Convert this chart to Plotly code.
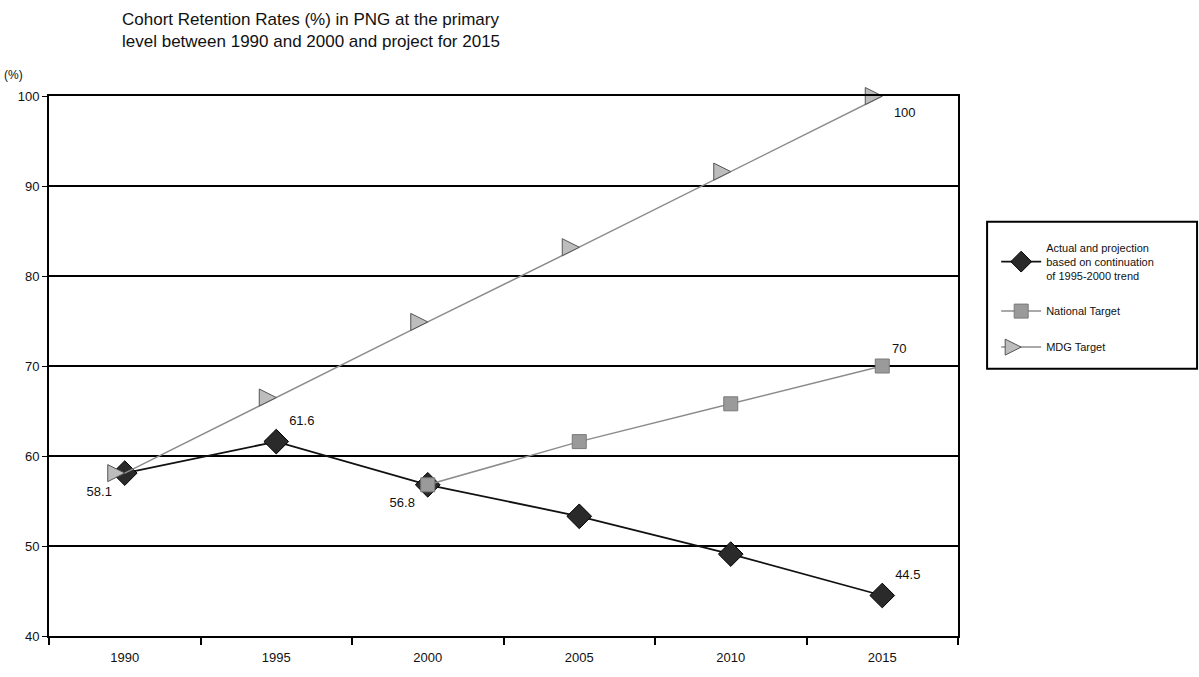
import plotly.graph_objects as go

# Source data: cohort retention rates (%) at primary level, Papua New Guinea
years = ["1990", "1995", "2000", "2005", "2010", "2015"]
actual = [58.1, 61.6, 56.8, 53.3, 49.1, 44.5]
national_years = ["2000", "2005", "2010", "2015"]
national = [56.8, 61.6, 65.8, 70.0]
mdg = [58.1, 66.5, 74.9, 83.2, 91.6, 100.0]

y_ticks = [40, 50, 60, 70, 80, 90, 100]

FONT = "Liberation Sans, Arial, sans-serif"


def point_labels(values, show):
    return [(f"{v:g}" if i in show else "") for i, v in enumerate(values)]


fig = go.Figure()

fig.add_trace(go.Scatter(
    x=years, y=actual, mode="lines+markers+text",
    name="Actual and projection<br>based on continuation<br>of 1995-2000 trend",
    legendgroup="actual",
    line=dict(color="#111111", width=1.8),
    marker=dict(symbol="diamond", size=19, color="#2a2a2a",
                line=dict(color="#000000", width=1)),
    text=point_labels(actual, {0, 1, 2, 5}),
    textposition=["bottom left", "top right", "bottom left",
                  "top right", "top right", "top right"],
    textfont=dict(family=FONT, size=13, color="#111"),
    cliponaxis=False,
))

fig.add_trace(go.Scatter(
    x=national_years, y=national, mode="lines+markers+text",
    name="National Target", legendgroup="national",
    line=dict(color="#8c8c8c", width=1.5),
    marker=dict(symbol="square", size=14, color="#9a9a9a",
                line=dict(color="#7a7a7a", width=1)),
    text=point_labels(national, {3}),
    textposition=["top right"] * 4,
    textfont=dict(family=FONT, size=13, color="#111"),
    cliponaxis=False,
))

fig.add_trace(go.Scatter(
    x=years, y=mdg, mode="lines+markers+text",
    name="MDG Target", legendgroup="mdg",
    line=dict(color="#8c8c8c", width=1.5),
    marker=dict(symbol="arrow-right", size=17, color="#bdbdbd",
                line=dict(color="#555555", width=1)),
    text=point_labels(mdg, {5}),
    textposition=["bottom right"] * 6,
    textfont=dict(family=FONT, size=13, color="#111"),
    cliponaxis=False,
))

# legend frame, stretched to the right edge of the page
fig.add_shape(type="rect", xref="paper", yref="paper",
              x0=1.032, x1=1.263, y0=0.495, y1=0.767,
              line=dict(color="#000", width=2), fillcolor="rgba(0,0,0,0)")

fig.update_layout(
    width=1199, height=677,
    margin=dict(l=49, r=241, t=96, b=41),
    paper_bgcolor="white", plot_bgcolor="white",
    font=dict(family=FONT, size=13, color="#111"),
    legend=dict(
        x=1.042, xanchor="left", y=0.745, yanchor="top",
        traceorder="grouped",
        font=dict(family=FONT, size=11, color="#111"),
        bgcolor="rgba(0,0,0,0)", borderwidth=0,
        tracegroupgap=17, itemwidth=40,
    ),
    showlegend=True,
)

# chart title, two lines at the top left
fig.add_annotation(
    text="Cohort Retention Rates (%) in PNG at the primary<br>"
         "level between 1990 and 2000 and project for 2015",
    xref="paper", yref="paper", x=0.078, y=1.163,
    xanchor="left", yanchor="top", align="left", showarrow=False,
    font=dict(family=FONT, size=17, color="#111"),
)

fig.update_xaxes(
    type="category", categoryorder="array", categoryarray=years,
    range=[-0.5, 5.5],
    showline=True, linecolor="#000", linewidth=2, mirror=True,
    ticks="outside", tickson="boundaries", ticklen=7, tickwidth=2,
    tickcolor="#000", showgrid=False, ticklabelstandoff=8,
    tickfont=dict(family=FONT, size=13, color="#111"),
)
fig.update_yaxes(
    range=[40, 100], tickvals=y_ticks,
    showline=True, linecolor="#000", linewidth=2, mirror=True,
    showgrid=True, gridcolor="#000", gridwidth=2,
    ticks="outside", ticklen=5, tickcolor="#000", tickwidth=1,
    tickfont=dict(family=FONT, size=13, color="#111"), zeroline=False,
)

fig.add_annotation(text="(%)", xref="paper", yref="paper",
                   x=-0.052, y=1.055, showarrow=False, xanchor="left",
                   font=dict(family=FONT, size=12, color="#111"))

fig.write_html("out.html")
